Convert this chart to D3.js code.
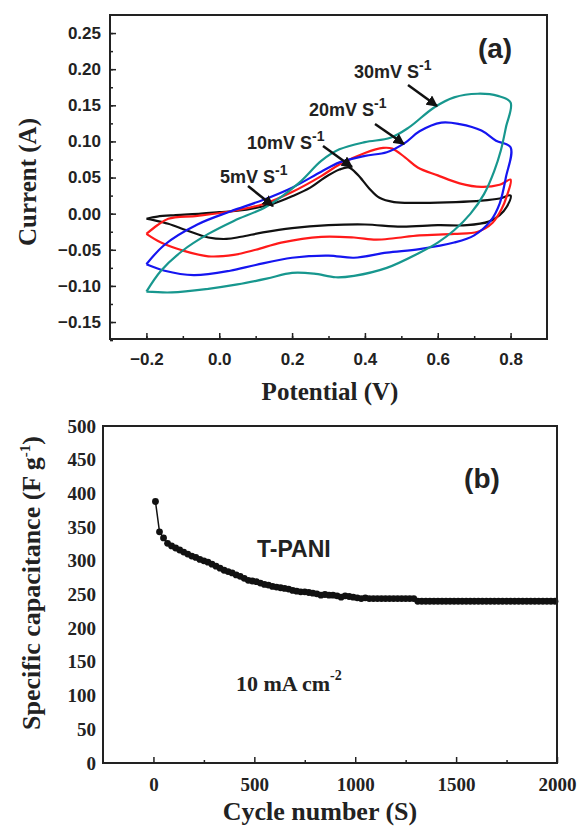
<!DOCTYPE html>
<html><head><meta charset="utf-8">
<script src="https://cdn.jsdelivr.net/npm/d3@7"></script>
<style>html,body{margin:0;padding:0;background:#fff;}svg{display:block;}</style>
</head><body>
<svg id="chart" width="578" height="826"></svg>
<script>
// ---------- Panel (a): cyclic voltammograms [potential V, current A] ----------
const cv5 = [[-0.2,-0.007],[-0.17,-0.004],[-0.12,-0.002],[-0.05,0.0],[0.0,0.002],[0.05,0.004],[0.1,0.008],[0.15,0.014],[0.2,0.024],[0.25,0.036],[0.29,0.050],[0.33,0.061],[0.355,0.064],[0.38,0.054],[0.41,0.036],[0.44,0.022],[0.48,0.016],[0.55,0.015],[0.65,0.016],[0.72,0.018],[0.77,0.021],[0.8,0.025],
  [0.79,0.010],[0.77,-0.002],[0.74,-0.011],[0.68,-0.016],[0.6,-0.016],[0.5,-0.018],[0.4,-0.015],[0.3,-0.016],[0.2,-0.020],[0.12,-0.026],[0.06,-0.032],[0.02,-0.035],[-0.03,-0.033],[-0.09,-0.023],[-0.14,-0.014],[-0.18,-0.009],[-0.2,-0.007]];
const cv10 = [[-0.2,-0.028],[-0.17,-0.016],[-0.14,-0.007],[-0.06,-0.003],[0.03,0.003],[0.12,0.013],[0.2,0.030],[0.28,0.052],[0.33,0.068],[0.4,0.084],[0.45,0.091],[0.475,0.090],[0.51,0.078],[0.545,0.064],[0.6,0.053],[0.66,0.042],[0.72,0.037],[0.77,0.040],[0.8,0.047],
  [0.79,0.025],[0.775,0.006],[0.75,-0.013],[0.71,-0.025],[0.645,-0.028],[0.55,-0.030],[0.48,-0.034],[0.43,-0.036],[0.37,-0.033],[0.28,-0.032],[0.17,-0.040],[0.1,-0.050],[0.04,-0.057],[-0.03,-0.059],[-0.1,-0.051],[-0.16,-0.040],[-0.2,-0.028]];
const cv20 = [[-0.2,-0.070],[-0.15,-0.043],[-0.06,-0.015],[0.03,0.003],[0.12,0.019],[0.2,0.036],[0.28,0.058],[0.33,0.071],[0.4,0.080],[0.46,0.085],[0.51,0.098],[0.55,0.114],[0.61,0.126],[0.66,0.124],[0.72,0.115],[0.76,0.101],[0.8,0.092],
  [0.787,0.050],[0.77,0.014],[0.745,-0.010],[0.70,-0.030],[0.645,-0.040],[0.55,-0.049],[0.46,-0.054],[0.37,-0.061],[0.3,-0.058],[0.2,-0.061],[0.1,-0.071],[0.03,-0.079],[-0.07,-0.085],[-0.15,-0.079],[-0.2,-0.070]];
const cv30 = [[-0.2,-0.108],[-0.16,-0.079],[-0.1,-0.051],[-0.03,-0.028],[0.04,-0.010],[0.13,0.010],[0.22,0.043],[0.28,0.073],[0.33,0.089],[0.4,0.099],[0.47,0.105],[0.52,0.119],[0.59,0.147],[0.645,0.161],[0.71,0.166],[0.765,0.163],[0.8,0.154],
  [0.787,0.119],[0.773,0.087],[0.755,0.059],[0.727,0.027],[0.69,0.0],[0.645,-0.023],[0.6,-0.040],[0.55,-0.054],[0.46,-0.075],[0.37,-0.086],[0.32,-0.088],[0.26,-0.083],[0.2,-0.082],[0.13,-0.090],[0.05,-0.098],[-0.03,-0.104],[-0.13,-0.109],[-0.2,-0.108]];
const cvSeries = [
  {name:"5mV", data:cv5, color:"#111111"},
  {name:"10mV", data:cv10, color:"#ff1a1a"},
  {name:"20mV", data:cv20, color:"#1515f0"},
  {name:"30mV", data:cv30, color:"#17978e"}
];
const potTicks = [-0.2,0.0,0.2,0.4,0.6,0.8];
const curTicks = [-0.15,-0.10,-0.05,0.00,0.05,0.10,0.15,0.20,0.25];

// ---------- Panel (b): cycling stability ----------
const cycles = d3.range(10, 2000, 20);
const capacitance = [388,343,334,326,322,319,316,313,310,307,305,302,300,298,295,292,289,286,284,282,
  279,277,274,271,270,269,267,265,264,262,261,260,259,258,256,255,254,254,253,252,
  251,249,250,249,249,248,246,248,247,246,
  245,244,245,244,244,244,244,244,244,244,244,244,244,244,244,
  240,240,240,240,240,240,240,240,240,240,240,240,240,240,240,240,240,240,240,240,
  240,240,240,240,240,240,240,240,240,240,240,240,240,240,240];
const cycleTicks = [0,500,1000,1500,2000];
const capTicks = [0,50,100,150,200,250,300,350,400,450,500];

const svg = d3.select("#chart");
const SANS = "Arial, 'Liberation Sans', sans-serif";
const SERIF = "'Times New Roman', 'Liberation Serif', serif";

// ===== Panel (a) =====
const A = {l:110, r:547, t:15, b:339};
const xA = d3.scaleLinear().domain([-0.3,0.9]).range([A.l,A.r]);
const yA = d3.scaleLinear().domain([-0.1735,0.275]).range([A.b,A.t]);
const gA = svg.append("g");

const xMinorA = d3.range(-0.2,0.85,0.1);
const yMinorA = d3.range(-0.175,0.27,0.025);
gA.append("g").attr("transform",`translate(0,${A.b})`)
  .call(d3.axisBottom(xA).tickValues(xMinorA).tickSize(-3).tickFormat(""))
  .call(g=>g.select(".domain").remove());
gA.append("g").attr("transform",`translate(${A.l},0)`)
  .call(d3.axisLeft(yA).tickValues(yMinorA).tickSize(-3).tickFormat(""))
  .call(g=>g.select(".domain").remove());
const axBA = gA.append("g").attr("transform",`translate(0,${A.b})`)
  .call(d3.axisBottom(xA).tickValues(potTicks).tickSize(-6).tickPadding(11).tickFormat(d3.format(".1f")));
axBA.select(".domain").remove();
const axLA = gA.append("g").attr("transform",`translate(${A.l},0)`)
  .call(d3.axisLeft(yA).tickValues(curTicks).tickSize(-6).tickPadding(9).tickFormat(d3.format(".2f")));
axLA.select(".domain").remove();
[axBA,axLA].forEach(a=>a.selectAll("text").attr("font-family",SANS).attr("font-weight","bold").attr("font-size",17).attr("fill","#222"));
axBA.selectAll("text").attr("dy","0.9em");
gA.selectAll(".tick line").attr("stroke","#222").attr("stroke-width",1.5);

const lineA = d3.line().x(d=>xA(d[0])).y(d=>yA(d[1])).curve(d3.curveCatmullRom.alpha(0.5));
gA.selectAll("path.cv").data(cvSeries).join("path").attr("class","cv")
  .attr("d",d=>lineA(d.data)).attr("fill","none").attr("stroke",d=>d.color).attr("stroke-width",2.2).attr("stroke-linejoin","round");

gA.append("rect").attr("x",A.l).attr("y",A.t).attr("width",A.r-A.l).attr("height",A.b-A.t)
  .attr("fill","none").attr("stroke","#222").attr("stroke-width",2);

gA.append("text").attr("x",330).attr("y",400).attr("text-anchor","middle")
  .attr("font-family",SERIF).attr("font-weight","bold").attr("font-size",25).attr("fill","#222").text("Potential (V)");
gA.append("text").attr("transform","translate(36,182) rotate(-90)").attr("text-anchor","middle")
  .attr("font-family",SERIF).attr("font-weight","bold").attr("font-size",25).attr("fill","#222").text("Current (A)");
gA.append("text").attr("x",495).attr("y",58).attr("text-anchor","middle")
  .attr("font-family",SANS).attr("font-weight","bold").attr("font-size",28).attr("fill","#222").text("(a)");

svg.append("defs").append("marker").attr("id","ah").attr("viewBox","0 0 10 10").attr("refX",9).attr("refY",5)
  .attr("markerWidth",4.5).attr("markerHeight",4.5).attr("orient","auto")
  .append("path").attr("d","M0,0L10,5L0,10z").attr("fill","#111");
const notes = [
  {t:"5mV S", x:220, y:183, x1:248, y1:186, x2:273, y2:206},
  {t:"10mV S", x:247, y:149, x1:323, y1:146, x2:352, y2:167},
  {t:"20mV S", x:309, y:116, x1:375, y1:124, x2:404, y2:144},
  {t:"30mV S", x:354, y:78, x1:408, y1:85, x2:437, y2:106}
];
notes.forEach(n=>{
  const t = gA.append("text").attr("x",n.x).attr("y",n.y).attr("font-family",SANS).attr("font-weight","bold").attr("font-size",18).attr("fill","#222");
  t.append("tspan").text(n.t);
  t.append("tspan").attr("dy",-8).attr("font-size",14).text("-1");
  gA.append("line").attr("x1",n.x1).attr("y1",n.y1).attr("x2",n.x2).attr("y2",n.y2)
    .attr("stroke","#111").attr("stroke-width",2.5).attr("marker-end","url(#ah)");
});

// ===== Panel (b) =====
const B = {l:103, r:557, t:426, b:763};
const xB = d3.scaleLinear().domain([-250,2000]).range([B.l,B.r]);
const yB = d3.scaleLinear().domain([0,500]).range([B.b,B.t]);
const gB = svg.append("g");
gB.append("g").attr("transform",`translate(0,${B.b})`)
  .call(d3.axisBottom(xB).tickValues([250,750,1250,1750]).tickSize(-3).tickFormat(""))
  .call(g=>g.select(".domain").remove());
const axBB = gB.append("g").attr("transform",`translate(0,${B.b})`)
  .call(d3.axisBottom(xB).tickValues(cycleTicks).tickSize(-6).tickPadding(11).tickFormat(d3.format("d")));
axBB.select(".domain").remove();
const axLB = gB.append("g").attr("transform",`translate(${B.l},0)`)
  .call(d3.axisLeft(yB).tickValues(capTicks).tickSize(0).tickPadding(7).tickFormat(d3.format("d")));
axLB.select(".domain").remove();
[axBB,axLB].forEach(a=>a.selectAll("text").attr("font-family",SERIF).attr("font-weight","bold").attr("font-size",19).attr("fill","#222"));
axBB.selectAll("text").attr("dy","0.9em");
gB.selectAll(".tick line").attr("stroke","#222").attr("stroke-width",1.5);

const ptsB = cycles.map((c,i)=>[c,capacitance[i]]);
gB.append("path").attr("d",d3.line().x(d=>xB(d[0])).y(d=>yB(d[1]))(ptsB))
  .attr("fill","none").attr("stroke","#111").attr("stroke-width",1.5);
gB.selectAll("circle").data(ptsB).join("circle").attr("cx",d=>xB(d[0])).attr("cy",d=>yB(d[1])).attr("r",3.4).attr("fill","#111");

gB.append("rect").attr("x",B.l).attr("y",B.t).attr("width",B.r-B.l).attr("height",B.b-B.t)
  .attr("fill","none").attr("stroke","#222").attr("stroke-width",2);

gB.append("text").attr("x",320).attr("y",820).attr("text-anchor","middle")
  .attr("font-family",SERIF).attr("font-weight","bold").attr("font-size",26).attr("fill","#222").text("Cycle number (S)");
const yt = gB.append("text").attr("transform","translate(40,583) rotate(-90)").attr("text-anchor","middle")
  .attr("font-family",SERIF).attr("font-weight","bold").attr("font-size",26).attr("fill","#222");
yt.append("tspan").text("Specific capacitance (F g");
yt.append("tspan").attr("dy",-10).attr("font-size",15).text("-1");
yt.append("tspan").attr("dy",10).text(")");
gB.append("text").attr("x",482).attr("y",488).attr("text-anchor","middle")
  .attr("font-family",SANS).attr("font-weight","bold").attr("font-size",28).attr("fill","#222").text("(b)");
gB.append("text").attr("x",257).attr("y",557)
  .attr("font-family",SANS).attr("font-weight","bold").attr("font-size",23).attr("fill","#222").text("T-PANI");
const cd = gB.append("text").attr("x",236).attr("y",691)
  .attr("font-family",SERIF).attr("font-weight","bold").attr("font-size",22).attr("fill","#222");
cd.append("tspan").text("10 mA cm");
cd.append("tspan").attr("dy",-11).attr("font-size",14).text("-2");
</script>
</body></html>
